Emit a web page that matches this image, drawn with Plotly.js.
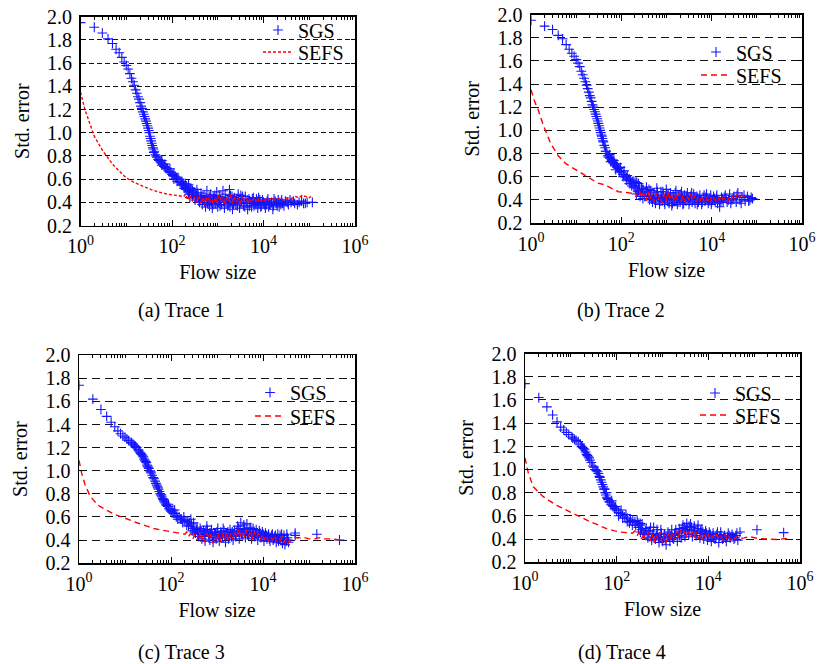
<!DOCTYPE html>
<html>
<head>
<meta charset="utf-8">
<script src="https://cdn.plot.ly/plotly-3.0.1.min.js"></script>
<style>html,body{margin:0;padding:0;background:#fff;}#chart{width:819px;height:664px;}</style>
</head>
<body>
<div id="chart"></div>
<script>
// ---------- data ----------
const xTickVals = [1, 100, 10000, 1000000];
const xTickText = ['10<sup>0</sup>', '10<sup>2</sup>', '10<sup>4</sup>', '10<sup>6</sup>'];
const yTickVals = [0.2, 0.4, 0.6, 0.8, 1.0, 1.2, 1.4, 1.6, 1.8, 2.0];
const yTickText = ['0.2', '0.4', '0.6', '0.8', '1.0', '1.2', '1.4', '1.6', '1.8', '2.0'];
const captions = ['(a) Trace 1', '(b) Trace 2', '(c) Trace 3', '(d) Trace 4'];
const seriesNames = ['SGS', 'SEFS'];

// Trace 1
const sgsA = [[1,1.95],[2,1.91],[3,1.86],[4,1.81],[5,1.77],[6,1.72],[7,1.69],[8,1.65],[9,1.61],[10,1.58],[11,1.55],[12,1.51],[13,1.47],[15,1.41],[17,1.34],[18,1.31],[20,1.26],[22,1.21],[24,1.16],[27,1.10],[30,1.04],[32,1.00],[35,0.93],[39,0.86],[43,0.81],[47,0.79],[55,0.75],[63,0.73],[71,0.70],[85,0.67],[100,0.64],[118,0.62],[140,0.60],[165,0.58],[195,0.56],
[14,1.44],[16,1.37],[19,1.29],[21,1.23],[23,1.18],[25,1.14],[26,1.12],[28,1.08],[29,1.06],[31,1.02],[33,0.97],[34,0.95],[36,0.91],[37,0.89],[38,0.87],[41,0.84],[50,0.77],[52,0.76],[58,0.74],[67,0.71],[75,0.69],[90,0.66],[105,0.63],[125,0.61],[155,0.58],[180,0.56],[60,0.76],[70,0.73],[90,0.69],[110,0.65],[130,0.58],[160,0.55],[185,0.52],
[40,0.83],[45,0.80],[60,0.72],[80,0.69],[95,0.66],[110,0.60],[130,0.61],[150,0.57],[170,0.55],[200,0.53],[230,0.55],[250,0.52],[280,0.50],
[210,0.54],[220,0.50],[240,0.47],[260,0.52],[280,0.45],[300,0.49],[320,0.42],[350,0.51],[380,0.44],[400,0.40],[430,0.48],[460,0.38],[500,0.46],[540,0.36],[580,0.50],[620,0.42],[660,0.37],[700,0.47],[760,0.35],[820,0.44],[880,0.39],[950,0.49],[1000,0.36],[1100,0.45],[1200,0.38],[1300,0.50],[1400,0.35],[1500,0.43],[1650,0.37],[1800,0.51],[1900,0.46],[2100,0.34],[2300,0.44],[2500,0.39],[2800,0.47],[3000,0.35],[3300,0.42],[3700,0.37],[4000,0.45],[4500,0.34],[5000,0.41],[5500,0.36],[6000,0.44],[6800,0.38],[7500,0.35],[8300,0.42],[9000,0.37],[10000,0.40],[11000,0.35],[12500,0.43],[14000,0.38],[16000,0.34],[18000,0.41],[20000,0.37],[23000,0.40],[26000,0.39],[30000,0.41],[35000,0.38],[40000,0.40],[48000,0.39],[60000,0.40],[75000,0.39],[90000,0.40],[117000,0.40],
[230,0.49],[270,0.48],[330,0.46],[370,0.48],[420,0.43],[480,0.42],[560,0.44],[650,0.45],[730,0.40],[800,0.41],[900,0.43],[1050,0.40],[1150,0.42],[1350,0.41],[1600,0.40],[1750,0.39],[2000,0.41],[2200,0.38],[2600,0.43],[3100,0.40],[3500,0.45],[4200,0.39],[4800,0.43],[5300,0.39],[6400,0.40],[7000,0.43],[8000,0.39],[9500,0.42],[11500,0.38],[13000,0.36],[15000,0.40],[17000,0.43],[22000,0.36],[25000,0.42],
[205,0.51],[245,0.44],[290,0.47],[340,0.44],[390,0.41],[450,0.45],[520,0.40],[600,0.39],[690,0.43],[780,0.38],[860,0.46],[980,0.42],[1120,0.37],[1250,0.44],[1450,0.47],[1700,0.42],[1850,0.36],[2050,0.45],[2400,0.41],[2700,0.37],[2900,0.42],[3200,0.46],[3600,0.40],[3900,0.36],[4400,0.42],[4900,0.37],[5700,0.43],[6200,0.37],[7200,0.41],[7800,0.44],[8700,0.36],[10500,0.38],[12000,0.41],[13500,0.39],[16500,0.37],[19000,0.39],[21000,0.42],[24000,0.38],[28000,0.37],[33000,0.40],[38000,0.42],[45000,0.41],[55000,0.38],[68000,0.41],[82000,0.39]];
const sefsA = [[1,1.35],[1.25,1.20],[1.5,1.11],[2,0.97],[3,0.85],[5,0.73],[7,0.67],[10,0.61],[15,0.57],[22,0.54],[35,0.51],[50,0.49],[80,0.47],[120,0.46],[180,0.45],[200,0.47],[220,0.42],[250,0.46],[280,0.41],[310,0.45],[350,0.40],[390,0.46],[430,0.39],[480,0.44],[530,0.38],[600,0.47],[660,0.40],[730,0.45],[800,0.37],[880,0.44],[970,0.39],[1070,0.48],[1180,0.40],[1300,0.45],[1430,0.38],[1580,0.44],[1740,0.41],[1920,0.47],[2100,0.39],[2300,0.45],[2550,0.40],[2800,0.44],[3100,0.38],[3400,0.46],[3800,0.41],[4200,0.44],[4600,0.39],[5100,0.43],[5600,0.40],[6200,0.44],[6900,0.41],[7600,0.43],[8400,0.40],[9300,0.42],[10300,0.41],[11500,0.43],[13000,0.42],[15000,0.44],[18000,0.42],[22000,0.43],[27000,0.42],[33000,0.44],[40000,0.43],[50000,0.45],[60000,0.44],[70000,0.46],[85000,0.45],[100000,0.44],[110000,0.45]];

// Trace 2
const sgsB = [[1,1.95],[2,1.90],[3,1.87],[4,1.82],[5,1.79],[6,1.74],[7,1.70],[8,1.665],[9,1.64],[10,1.61],[11,1.58],[12,1.55],[13,1.51],[15,1.45],[17,1.39],[19,1.33],[20,1.30],[22,1.25],[24,1.20],[26,1.16],[29,1.10],[31,1.06],[34,1.00],[37,0.95],[40,0.90],[44,0.85],[48,0.80],[52,0.77],[56,0.76],[62,0.74],[70,0.71],[78,0.69],[86,0.67],[100,0.64],[121,0.60],[140,0.58],[160,0.57],[190,0.56],[240,0.54],
[14,1.48],[16,1.42],[18,1.36],[21,1.28],[23,1.22],[25,1.18],[27,1.14],[28,1.12],[30,1.08],[32,1.04],[33,1.02],[35,0.98],[36,0.96],[38,0.93],[39,0.91],[42,0.87],[46,0.82],[50,0.78],[54,0.77],[60,0.75],[66,0.72],[74,0.70],[82,0.68],[94,0.65],[110,0.62],[130,0.59],[150,0.58],[175,0.56],[210,0.55],[55,0.79],[68,0.74],[80,0.71],[95,0.68],[115,0.65],[135,0.61],[165,0.54],[190,0.52],
[45,0.82],[58,0.73],[65,0.72],[75,0.66],[90,0.64],[110,0.60],[130,0.57],[150,0.54],[170,0.52],[200,0.51],[220,0.55],
[210,0.50],[230,0.47],[250,0.52],[270,0.45],[300,0.49],[330,0.43],[360,0.51],[390,0.44],[420,0.40],[450,0.48],[490,0.38],[530,0.46],[570,0.37],[610,0.50],[650,0.42],[700,0.36],[750,0.47],[800,0.39],[860,0.44],[920,0.36],[990,0.49],[1060,0.41],[1140,0.37],[1220,0.46],[1310,0.35],[1400,0.44],[1500,0.39],[1620,0.48],[1740,0.36],[1870,0.43],[2000,0.38],[2150,0.47],[2300,0.36],[2500,0.44],[2700,0.39],[2900,0.46],[3150,0.36],[3400,0.42],[3700,0.38],[4000,0.45],[4300,0.37],[4700,0.43],[5100,0.38],[5500,0.44],[6000,0.36],[6500,0.42],[7100,0.39],[7700,0.45],[8400,0.37],[9100,0.41],[10000,0.38],[11000,0.43],[12000,0.39],[13500,0.37],[15000,0.34],[16500,0.42],[18000,0.39],[20000,0.44],[22000,0.38],[25000,0.45],[28000,0.40],[31000,0.43],[35000,0.38],[38000,0.46],[42000,0.40],[47000,0.42],[55000,0.39],[62000,0.43],[70000,0.40],[80000,0.41],
[240,0.48],[280,0.50],[320,0.46],[380,0.47],[440,0.43],[510,0.42],[590,0.44],[680,0.41],[780,0.43],[880,0.40],[960,0.42],[1100,0.44],[1270,0.40],[1450,0.42],[1680,0.40],[1950,0.41],[2250,0.42],[2600,0.40],[3000,0.41],[3500,0.44],[4100,0.40],[4900,0.41],[5800,0.40],[6800,0.44],[8000,0.41],[9500,0.44],[10500,0.40],[12800,0.42],[14500,0.40],[17500,0.41],[21000,0.41],
[215,0.45],[260,0.43],[300,0.41],[350,0.47],[410,0.49],[470,0.41],[550,0.40],[630,0.47],[720,0.39],[830,0.47],[900,0.38],[1020,0.45],[1180,0.42],[1350,0.37],[1560,0.46],[1800,0.38],[2080,0.45],[2400,0.37],[2800,0.43],[3250,0.39],[3600,0.46],[4200,0.42],[4800,0.36],[5300,0.41],[6200,0.38],[7400,0.42],[8700,0.39],[9800,0.36],[11500,0.41],[13000,0.44],[16000,0.38],[19000,0.42],[23500,0.40],[26500,0.37],[30000,0.41],[36500,0.44],[45000,0.37],[52000,0.44],[66000,0.39],[75000,0.42]];
const sefsB = [[1,1.35],[1.2,1.25],[1.43,1.18],[1.85,1.05],[2.7,0.89],[4,0.78],[6,0.71],[9.7,0.66],[15,0.61],[22,0.57],[30,0.545],[43,0.53],[60,0.50],[86,0.47],[120,0.465],[171,0.457],[200,0.47],[220,0.43],[250,0.48],[280,0.42],[310,0.46],[350,0.39],[390,0.47],[430,0.40],[480,0.45],[530,0.38],[590,0.46],[650,0.40],[720,0.44],[790,0.37],[870,0.45],[960,0.39],[1060,0.47],[1170,0.40],[1290,0.44],[1420,0.38],[1570,0.45],[1730,0.40],[1900,0.46],[2100,0.39],[2320,0.44],[2560,0.38],[2820,0.43],[3100,0.40],[3420,0.45],[3770,0.39],[4150,0.44],[4580,0.38],[5050,0.43],[5570,0.39],[6140,0.44],[6770,0.38],[7460,0.42],[8230,0.39],[9080,0.43],[10000,0.38],[11000,0.42],[12200,0.39],[13400,0.43],[14800,0.40],[16300,0.44],[18000,0.40],[20000,0.42],[22000,0.38],[24500,0.43],[27000,0.40],[30000,0.44],[33000,0.41],[37000,0.45],[41000,0.42],[46000,0.44],[52000,0.43],[60000,0.44]];

// Trace 3
const sgsC = [[1,1.74],[2,1.62],[3,1.53],[4,1.47],[5,1.42],[6,1.38],[7,1.345],[8,1.32],[9,1.30],[10,1.29],[11,1.275],[12,1.26],[13.5,1.245],[15,1.23],[17,1.21],[19.5,1.18],[22,1.15],[24,1.13],[27,1.09],[30,1.05],[33,1.02],[37,0.98],[41,0.94],[45,0.91],[49,0.875],[54,0.84],[58,0.80],[63,0.775],[70,0.74],[80,0.70],[90,0.67],[100,0.65],[122,0.63],[150,0.60],[200,0.57],[250,0.55],
[14,1.24],[16,1.22],[18,1.20],[20,1.17],[21,1.16],[23,1.14],[25,1.12],[26,1.10],[28,1.08],[29,1.07],[31,1.04],[32,1.03],[35,1.00],[36,0.99],[39,0.96],[43,0.93],[47,0.89],[51,0.86],[52,0.85],[60,0.79],[68,0.75],[72,0.73],[78,0.71],[95,0.66],[105,0.64],[115,0.63],[135,0.61],[170,0.58],[225,0.56],[62,0.79],[88,0.71],[120,0.66],[140,0.58],[190,0.60],[240,0.52],
[56,0.82],[66,0.76],[75,0.72],[85,0.69],[110,0.66],[130,0.60],[160,0.58],[180,0.55],[220,0.53],[270,0.58],
[270,0.52],[290,0.48],[310,0.55],[340,0.46],[370,0.51],[400,0.43],[430,0.50],[470,0.41],[510,0.48],[550,0.39],[600,0.52],[650,0.44],[700,0.40],[760,0.49],[820,0.38],[890,0.46],[960,0.41],[1040,0.50],[1120,0.39],[1210,0.47],[1310,0.42],[1420,0.48],[1530,0.38],[1650,0.45],[1780,0.41],[1920,0.49],[2070,0.43],[2240,0.40],[2420,0.48],[2610,0.44],[2820,0.52],[3050,0.41],[3290,0.55],[3550,0.45],[3840,0.53],[4140,0.42],[4470,0.54],[4830,0.44],[5220,0.51],[5640,0.41],[6090,0.50],[6580,0.43],[7110,0.49],[7680,0.40],[8300,0.48],[8960,0.42],[9680,0.47],[10500,0.39],[11300,0.46],[12200,0.41],[13200,0.45],[14200,0.39],[15400,0.44],[16600,0.40],[18000,0.43],[19400,0.38],[21000,0.45],[22600,0.41],[24500,0.42],[26400,0.37],[28500,0.44],[30000,0.36],[32000,0.39],[34000,0.42],[36000,0.38],[50000,0.46],[50000,0.44],[148000,0.45],[460000,0.40],
[300,0.50],[360,0.49],[420,0.46],[490,0.45],[570,0.47],[680,0.46],[790,0.44],[930,0.45],[1080,0.44],[1250,0.45],[1480,0.44],[1720,0.47],[2000,0.46],[2330,0.45],[2700,0.47],[3170,0.48],[3700,0.49],[4300,0.47],[5000,0.47],[5900,0.46],[6850,0.46],[8000,0.44],[9300,0.44],[10800,0.43],[12700,0.43],[14800,0.42],[17300,0.41],[20200,0.41],[23500,0.44],[27400,0.40],
[280,0.54],[320,0.47],[380,0.45],[450,0.48],[530,0.43],[620,0.49],[720,0.46],[850,0.42],[1000,0.47],[1160,0.43],[1360,0.50],[1580,0.44],[1850,0.43],[2150,0.47],[2520,0.43],[2950,0.50],[3420,0.46],[3980,0.50],[4620,0.45],[5400,0.49],[6300,0.45],[7350,0.45],[8600,0.46],[10000,0.45],[11800,0.44],[13700,0.41],[16000,0.45],[18700,0.44],[21800,0.39],[25400,0.45],[29200,0.41],[33000,0.45],[35000,0.40]];
const sefsC = [[1,1.09],[1.14,0.98],[1.35,0.88],[1.74,0.78],[2.6,0.70],[4,0.66],[6,0.62],[8.5,0.60],[13,0.57],[19.5,0.545],[30,0.52],[42,0.50],[65,0.485],[100,0.47],[150,0.46],[200,0.45],[220,0.47],[240,0.43],[270,0.46],[300,0.41],[330,0.45],[370,0.40],[410,0.47],[450,0.39],[500,0.44],[550,0.38],[610,0.46],[670,0.41],[740,0.45],[820,0.37],[900,0.44],[1000,0.39],[1100,0.46],[1210,0.38],[1340,0.45],[1480,0.40],[1630,0.47],[1800,0.39],[1990,0.46],[2200,0.41],[2430,0.48],[2680,0.42],[2960,0.49],[3270,0.43],[3610,0.48],[3990,0.42],[4400,0.49],[4870,0.43],[5370,0.48],[5930,0.41],[6550,0.47],[7240,0.42],[8000,0.46],[8830,0.40],[9750,0.45],[10800,0.40],[11900,0.44],[13100,0.39],[14500,0.43],[16000,0.40],[17700,0.44],[19500,0.39],[21600,0.42],[23800,0.40],[26300,0.43],[29000,0.38],[32000,0.41],[35000,0.37],[38000,0.40],[42000,0.41],[50000,0.42],[65000,0.42],[80000,0.42],[100000,0.41],[130000,0.41],[170000,0.42],[220000,0.41],[300000,0.41],[400000,0.40],[480000,0.40]];

// Trace 4
const sgsD = [[1,1.74],[2,1.62],[3,1.54],[4,1.47],[5,1.41],[6,1.365],[7,1.34],[8,1.32],[9,1.30],[10.5,1.28],[12,1.26],[14.5,1.24],[17,1.20],[20,1.17],[23,1.12],[26,1.08],[30,1.03],[34,1.00],[40,0.965],[45,0.91],[51,0.85],[56,0.80],[61,0.76],[65,0.74],[75,0.70],[84,0.68],[100,0.65],[120,0.62],[150,0.59],[200,0.565],[250,0.55],[325,0.535],
[11,1.27],[13,1.25],[16,1.22],[18,1.19],[19,1.18],[21,1.15],[22,1.13],[24,1.11],[25,1.10],[28,1.06],[32,1.02],[36,0.99],[38,0.98],[42,0.94],[43,0.93],[47,0.89],[49,0.87],[53,0.83],[58,0.78],[63,0.75],[70,0.72],[80,0.69],[90,0.67],[110,0.63],[135,0.605],[170,0.58],[225,0.56],[290,0.54],[60,0.80],[78,0.73],[95,0.68],[125,0.65],[160,0.61],[190,0.54],[260,0.52],
[55,0.83],[70,0.72],[90,0.66],[110,0.60],[135,0.58],[170,0.55],[220,0.52],[280,0.56],
[300,0.50],[330,0.46],[360,0.53],[400,0.44],[440,0.49],[480,0.41],[530,0.47],[580,0.39],[640,0.50],[700,0.40],[770,0.45],[840,0.37],[920,0.48],[1010,0.38],[1110,0.44],[1200,0.35],[1320,0.46],[1450,0.38],[1590,0.48],[1750,0.40],[1920,0.45],[2110,0.38],[2320,0.49],[2550,0.41],[2800,0.52],[3080,0.42],[3380,0.535],[3720,0.44],[4090,0.53],[4490,0.42],[4940,0.51],[5430,0.43],[5970,0.52],[6560,0.41],[7210,0.48],[7930,0.40],[8720,0.47],[9590,0.39],[10500,0.46],[11600,0.38],[12700,0.45],[14000,0.40],[15400,0.44],[16900,0.37],[18600,0.46],[20500,0.40],[22500,0.43],[24700,0.38],[27200,0.45],[29900,0.41],[32900,0.44],[36200,0.40],[40000,0.43],[44000,0.39],[49000,0.46],[115000,0.48],[440000,0.455],
[350,0.48],[420,0.47],[500,0.45],[600,0.44],[730,0.43],[880,0.42],[1060,0.41],[1270,0.42],[1520,0.43],[1830,0.44],[2200,0.45],[2650,0.46],[3200,0.47],[3900,0.48],[4700,0.47],[5700,0.46],[6900,0.45],[8300,0.44],[10000,0.43],[12100,0.42],[14700,0.42],[17700,0.42],[21400,0.41],[25900,0.42],[31300,0.42],[37900,0.41],
[320,0.52],[380,0.45],[460,0.44],[550,0.50],[620,0.42],[760,0.48],[820,0.41],[950,0.45],[1150,0.39],[1400,0.44],[1650,0.41],[1950,0.48],[2350,0.43],[2700,0.49],[3000,0.50],[3500,0.48],[3800,0.51],[4300,0.50],[5100,0.45],[5800,0.49],[6700,0.47],[7600,0.46],[9000,0.45],[11000,0.44],[13000,0.41],[15800,0.46],[19000,0.43],[23500,0.41],[28500,0.43],[34500,0.42],[42000,0.45]];
const sefsD = [[1,1.10],[1.18,0.97],[1.52,0.85],[2.5,0.765],[4.9,0.69],[7,0.66],[11,0.62],[17,0.58],[26,0.55],[40,0.52],[60,0.49],[90,0.47],[120,0.46],[170,0.455],[220,0.45],[250,0.47],[280,0.43],[310,0.46],[350,0.40],[390,0.45],[430,0.39],[480,0.46],[530,0.38],[590,0.45],[650,0.37],[720,0.44],[800,0.39],[880,0.46],[980,0.36],[1080,0.44],[1200,0.37],[1330,0.45],[1470,0.39],[1630,0.46],[1800,0.40],[2000,0.47],[2200,0.41],[2450,0.48],[2700,0.42],[3000,0.47],[3300,0.41],[3650,0.48],[4050,0.42],[4480,0.47],[4960,0.41],[5490,0.46],[6080,0.40],[6730,0.45],[7450,0.39],[8250,0.44],[9130,0.40],[10100,0.44],[11200,0.39],[12400,0.43],[13700,0.40],[15200,0.44],[16800,0.41],[18600,0.43],[20600,0.39],[22800,0.44],[25200,0.40],[27900,0.43],[30900,0.39],[34200,0.42],[37900,0.40],[42000,0.42],[49000,0.405],[60000,0.41],[80000,0.42],[120000,0.405],[185000,0.40],[320000,0.395],[525000,0.405]];

// ---------- layout ----------
const W = 819, H = 664;
const FONT = 'Liberation Serif, Times New Roman, serif';
const FS = 20;
const px = v => v / W;
const py = v => 1 - v / H;

const panels = [
  {sgs: sgsA, sefs: sefsA, xpx: [80.5, 355], ypx: [16.8, 225.5], grid: '5px,3px', dash: '3px,2px', legX: 258, legY: [30, 52], mask: [259, 354, 19, 47], cap: [181, 310]},
  {sgs: sgsB, sefs: sefsB, xpx: [531, 802], ypx: [14.5, 223], grid: '8px,5px', dash: '6px,4px', legX: 696, legY: [52, 75], mask: [701, 801, 41, 70], cap: [621, 310]},
  {sgs: sgsC, sefs: sefsC, xpx: [79, 355], ypx: [355.2, 563.1], grid: '8px,5px', dash: '6px,4px', legX: 250, legY: [392.5, 416], mask: [254, 354, 383, 408], cap: [181, 652]},
  {sgs: sgsD, sefs: sefsD, xpx: [525, 800], ypx: [353.5, 562.2], grid: '8px,5px', dash: '6px,4px', legX: 695, legY: [393, 415], mask: [700, 799, 382, 406], cap: [622, 652]}
];

const minorVals = [];
for (let e = 0; e < 6; e++) for (let m = 2; m <= 10; m++) if (!(m === 10 && e % 2 === 1)) minorVals.push(m * Math.pow(10, e));

const data = [];
const layout = {
  width: W, height: H,
  margin: {l: 0, r: 0, t: 0, b: 0},
  paper_bgcolor: '#fff', plot_bgcolor: '#fff',
  font: {family: FONT, size: FS, color: '#000'},
  showlegend: true,
  annotations: [],
  shapes: []
};

function legName(k) { return k === 1 ? 'legend' : 'legend' + k; }

panels.forEach((p, i) => {
  const s = i === 0 ? '' : String(i + 1);
  const l1 = legName(2 * i + 1), l2 = legName(2 * i + 2);
  data.push({
    x: p.sgs.map(d => d[0]), y: p.sgs.map(d => d[1]),
    type: 'scatter', mode: 'markers', name: seriesNames[0],
    marker: {symbol: 'cross-thin', size: 7, color: '#0000ff', line: {color: '#1414ff', width: 1.1}},
    xaxis: 'x' + s, yaxis: 'y' + s, legend: l1, hoverinfo: 'skip'
  });
  data.push({
    x: p.sefs.map(d => d[0]), y: p.sefs.map(d => d[1]),
    type: 'scatter', mode: 'lines', name: seriesNames[1],
    line: {color: '#ff0000', width: 1.4, dash: p.dash},
    xaxis: 'x' + s, yaxis: 'y' + s, legend: l2, hoverinfo: 'skip'
  });
  layout['xaxis' + s] = {
    type: 'log', range: [0, 6], domain: [px(p.xpx[0]), px(p.xpx[1])], anchor: 'y' + s,
    tickmode: 'array', tickvals: xTickVals, ticktext: xTickText,
    ticks: 'inside', ticklen: 6, tickwidth: 1, tickcolor: '#000',
    minor: {tickmode: 'array', tickvals: minorVals, ticks: 'inside', ticklen: 3, tickwidth: 1, tickcolor: '#000', showgrid: false},
    showline: true, linecolor: '#000', linewidth: 1.5, mirror: 'allticks',
    showgrid: false, zeroline: false, ticklabelstandoff: 2,
    tickfont: {family: FONT, size: FS, color: '#000'},
    title: {text: 'Flow size', font: {family: FONT, size: FS, color: '#000'}, standoff: 9}
  };
  layout['yaxis' + s] = {
    range: [0.2, 2.0], domain: [py(p.ypx[1]), py(p.ypx[0])], anchor: 'x' + s,
    tickmode: 'array', tickvals: yTickVals, ticktext: yTickText,
    ticks: 'inside', ticklen: 4, tickwidth: 1, tickcolor: '#000',
    showline: true, linecolor: '#000', linewidth: 1.5, mirror: 'allticks',
    showgrid: true, gridcolor: '#111', gridwidth: 1, griddash: p.grid,
    zeroline: false, ticklabelstandoff: 3,
    tickfont: {family: FONT, size: FS, color: '#000'},
    title: {text: 'Std. error', font: {family: FONT, size: FS, color: '#000'}, standoff: 12}
  };
  const legBase = {
    x: px(p.legX), xanchor: 'left', yanchor: 'middle', xref: 'paper', yref: 'paper',
    borderwidth: 0, bgcolor: 'rgba(255,255,255,0)', font: {family: FONT, size: FS, color: '#000'},
    itemclick: false, itemdoubleclick: false
  };
  layout[l1] = Object.assign({}, legBase, {y: py(p.legY[0])});
  layout[l2] = Object.assign({}, legBase, {y: py(p.legY[1])});
  // white legend frame hiding the grid lines behind the legend entries
  layout.shapes.push({
    type: 'rect', xref: 'paper', yref: 'paper', layer: 'between',
    x0: px(p.mask[0]), x1: px(p.mask[1]), y0: py(p.mask[3]), y1: py(p.mask[2]),
    fillcolor: '#ffffff', line: {width: 0}
  });
  layout.annotations.push({
    text: captions[i], xref: 'paper', yref: 'paper', x: px(p.cap[0]), y: py(p.cap[1]),
    xanchor: 'center', yanchor: 'middle', showarrow: false,
    font: {family: FONT, size: FS, color: '#000'}
  });
});

Plotly.newPlot('chart', data, layout, {staticPlot: true, displayModeBar: false});
</script>
</body>
</html>
